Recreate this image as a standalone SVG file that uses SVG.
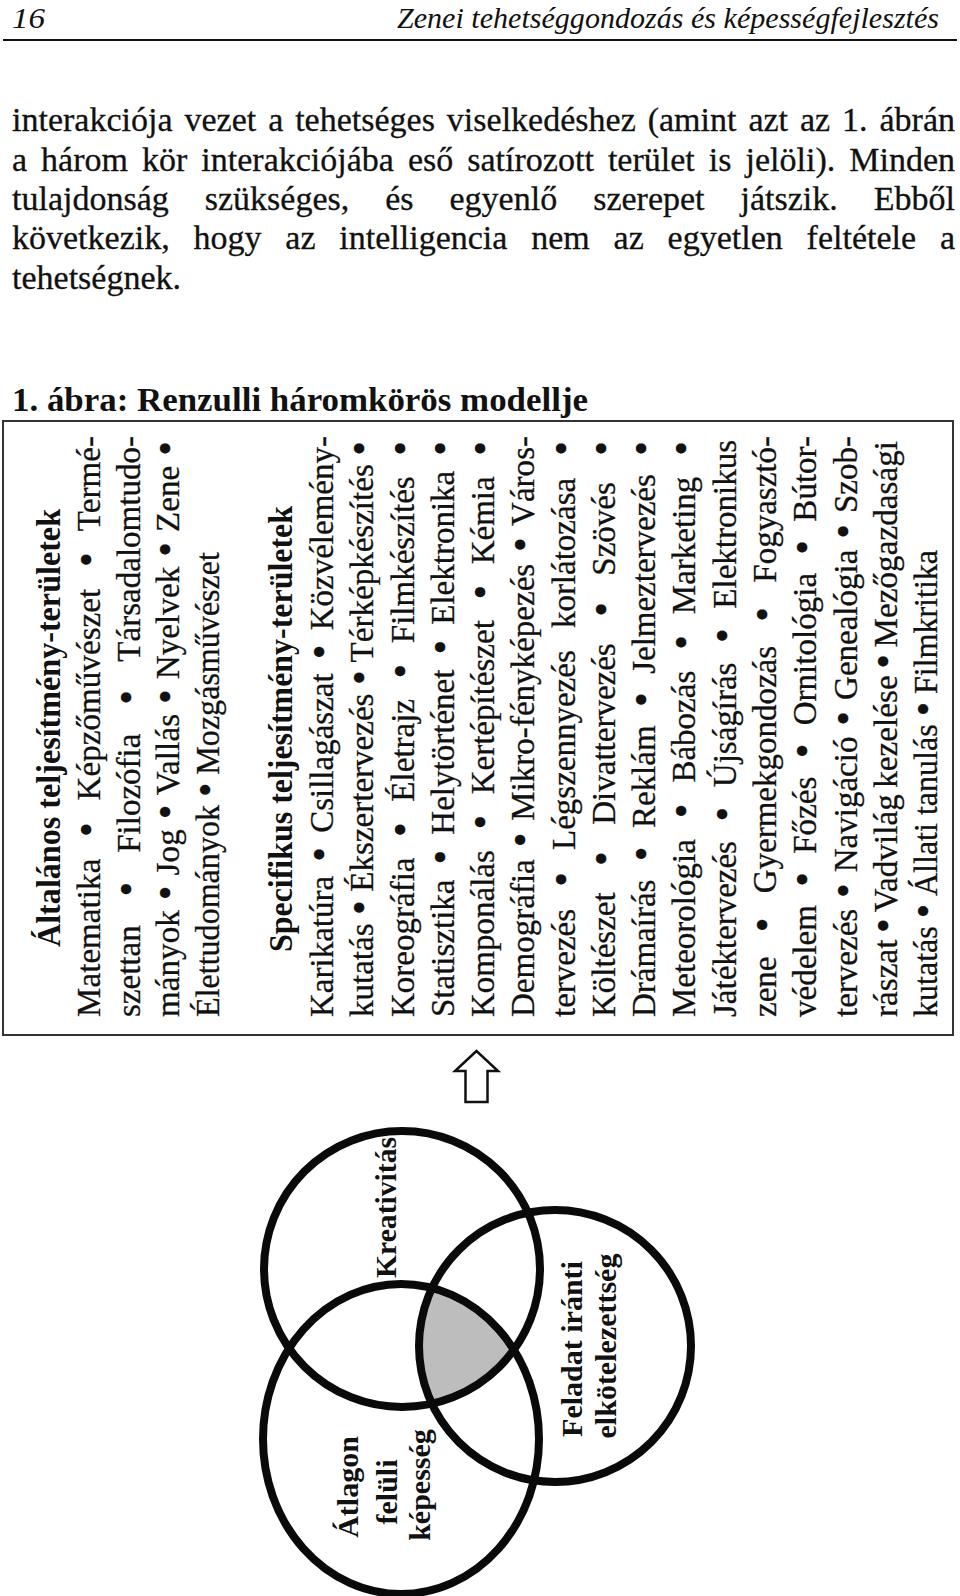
<svg xmlns="http://www.w3.org/2000/svg" width="960" height="1596" viewBox="0 0 960 1596">
<style>
.hd{font-family:"Liberation Serif",serif;font-style:italic;font-size:30px;fill:#111}
.bd{font-family:"Liberation Serif",serif;font-size:34px;fill:#111;stroke:#111;stroke-width:0.3}
.cap{font-family:"Liberation Serif",serif;font-size:34px;font-weight:bold;fill:#111}
.bx{font-family:"Liberation Serif",serif;font-size:33px;fill:#111;stroke:#111;stroke-width:0.3}
.bxh{font-family:"Liberation Serif",serif;font-size:33px;font-weight:bold;fill:#111}
.b{font-size:42px}
.lb{font-family:"Liberation Serif",serif;font-size:30px;font-weight:bold;fill:#111}
.ring{fill:none;stroke:#0a0a0a;stroke-width:8}
</style>
<defs>
<clipPath id="clipLow"><ellipse cx="401" cy="1439" rx="138" ry="155"/></clipPath>
<clipPath id="clipRight"><circle cx="555" cy="1346" r="136"/></clipPath>
</defs>
<rect x="0" y="0" width="960" height="1596" fill="#fff"/>

<g id="header">
<text class="hd" x="12" y="28" textLength="33" lengthAdjust="spacingAndGlyphs">16</text>
<text class="hd" x="397" y="28" textLength="542" lengthAdjust="spacingAndGlyphs">Zenei tehetséggondozás és képességfejlesztés</text>
<line x1="3" y1="40" x2="957" y2="40" stroke="#111" stroke-width="2"/>
</g>

<g id="body-text">
<text class="bd" x="12" y="131" word-spacing="3.4" textLength="943" lengthAdjust="spacing">interakciója vezet a tehetséges viselkedéshez (amint azt az 1. ábrán</text>
<text class="bd" x="12" y="170.5" word-spacing="5.5" textLength="943" lengthAdjust="spacing">a három kör interakciójába eső satírozott terület is jelöli). Minden</text>
<text class="bd" x="12" y="210" word-spacing="27.5" textLength="943" lengthAdjust="spacing">tulajdonság szükséges, és egyenlő szerepet játszik. Ebből</text>
<text class="bd" x="12" y="249" word-spacing="15.3" textLength="943" lengthAdjust="spacing">következik, hogy az intelligencia nem az egyetlen feltétele a</text>
<text class="bd" x="12" y="288.5">tehetségnek.</text>
</g>

<g id="caption">
<text class="cap" x="12" y="411" textLength="576" lengthAdjust="spacingAndGlyphs">1. ábra: Renzulli háromkörös modellje</text>
</g>

<g id="domains-box">
<rect x="3" y="421" width="950" height="614" fill="none" stroke="#333" stroke-width="2"/>
<text class="bxh" transform="translate(60,947) rotate(-90)" textLength="438" lengthAdjust="spacingAndGlyphs">Általános teljesítmény-területek</text>
<text class="bx" transform="translate(100,1017) rotate(-90)" word-spacing="13.3" textLength="581" lengthAdjust="spacing">Matematika <tspan class="b">•</tspan> Képzőművészet <tspan class="b">•</tspan> Termé-</text>
<text class="bx" transform="translate(139.5,1017) rotate(-90)" word-spacing="20.6" textLength="581" lengthAdjust="spacing">szettan <tspan class="b">•</tspan> Filozófia <tspan class="b">•</tspan> Társadalomtudo-</text>
<text class="bx" transform="translate(179,1017) rotate(-90)" word-spacing="1.55" textLength="576" lengthAdjust="spacing">mányok <tspan class="b">•</tspan> Jog <tspan class="b">•</tspan> Vallás <tspan class="b">•</tspan> Nyelvek <tspan class="b">•</tspan> Zene <tspan class="b">•</tspan></text>
<text class="bx" transform="translate(218.5,1017) rotate(-90)" textLength="465" lengthAdjust="spacingAndGlyphs">Élettudományok <tspan class="b">•</tspan> Mozgásművészet</text>

<text class="bxh" transform="translate(292,952) rotate(-90)" textLength="446" lengthAdjust="spacingAndGlyphs">Specifikus teljesítmény-területek</text>
<text class="bx" transform="translate(333,1017) rotate(-90)" word-spacing="5.9" textLength="581" lengthAdjust="spacing">Karikatúra <tspan class="b">•</tspan> Csillagászat <tspan class="b">•</tspan> Közvélemény-</text>
<text class="bx" transform="translate(373.3,1017) rotate(-90)" word-spacing="0.25" textLength="576" lengthAdjust="spacing">kutatás <tspan class="b">•</tspan> Ékszertervezés <tspan class="b">•</tspan> Térképkészítés <tspan class="b">•</tspan></text>
<text class="bx" transform="translate(413.5,1017) rotate(-90)" word-spacing="12.3" textLength="576" lengthAdjust="spacing">Koreográfia <tspan class="b">•</tspan> Életrajz <tspan class="b">•</tspan> Filmkészítés <tspan class="b">•</tspan></text>
<text class="bx" transform="translate(453.8,1017) rotate(-90)" word-spacing="6.8" textLength="576" lengthAdjust="spacing">Statisztika <tspan class="b">•</tspan> Helytörténet <tspan class="b">•</tspan> Elektronika <tspan class="b">•</tspan></text>
<text class="bx" transform="translate(494.1,1017) rotate(-90)" word-spacing="12.3" textLength="576" lengthAdjust="spacing">Komponálás <tspan class="b">•</tspan> Kertépítészet <tspan class="b">•</tspan> Kémia <tspan class="b">•</tspan></text>
<text class="bx" transform="translate(534.4,1017) rotate(-90)" word-spacing="3.6" textLength="581" lengthAdjust="spacing">Demográfia <tspan class="b">•</tspan> Mikro-fényképezés <tspan class="b">•</tspan> Város-</text>
<text class="bx" transform="translate(574.6,1017) rotate(-90)" word-spacing="13.9" textLength="576" lengthAdjust="spacing">tervezés <tspan class="b">•</tspan> Légszennyezés korlátozása <tspan class="b">•</tspan></text>
<text class="bx" transform="translate(614.9,1017) rotate(-90)" word-spacing="18.2" textLength="576" lengthAdjust="spacing">Költészet <tspan class="b">•</tspan> Divattervezés <tspan class="b">•</tspan> Szövés <tspan class="b">•</tspan></text>
<text class="bx" transform="translate(655.2,1017) rotate(-90)" word-spacing="10.2" textLength="576" lengthAdjust="spacing">Drámaírás <tspan class="b">•</tspan> Reklám <tspan class="b">•</tspan> Jelmeztervezés <tspan class="b">•</tspan></text>
<text class="bx" transform="translate(695.4,1017) rotate(-90)" word-spacing="12.7" textLength="576" lengthAdjust="spacing">Meteorológia <tspan class="b">•</tspan> Bábozás <tspan class="b">•</tspan> Marketing <tspan class="b">•</tspan></text>
<text class="bx" transform="translate(735.7,1017) rotate(-90)" word-spacing="11.3" textLength="577" lengthAdjust="spacing">Játéktervezés <tspan class="b">•</tspan> Újságírás <tspan class="b">•</tspan> Elektronikus</text>
<text class="bx" transform="translate(776,1017) rotate(-90)" word-spacing="16" textLength="581" lengthAdjust="spacing">zene <tspan class="b">•</tspan> Gyermekgondozás <tspan class="b">•</tspan> Fogyasztó-</text>
<text class="bx" transform="translate(816.2,1017) rotate(-90)" word-spacing="10" textLength="581" lengthAdjust="spacing">védelem <tspan class="b">•</tspan> Főzés <tspan class="b">•</tspan> Ornitológia <tspan class="b">•</tspan> Bútor-</text>
<text class="bx" transform="translate(856.5,1017) rotate(-90)" word-spacing="2.7" textLength="581" lengthAdjust="spacing">tervezés <tspan class="b">•</tspan> Navigáció <tspan class="b">•</tspan> Genealógia <tspan class="b">•</tspan> Szob-</text>
<text class="bx" transform="translate(896.8,1017) rotate(-90)" word-spacing="-1.9" textLength="576" lengthAdjust="spacing">rászat <tspan class="b">•</tspan> Vadvilág kezelése <tspan class="b">•</tspan> Mezőgazdasági</text>
<text class="bx" transform="translate(937,1017) rotate(-90)" textLength="467" lengthAdjust="spacingAndGlyphs">kutatás <tspan class="b">•</tspan> Állati tanulás <tspan class="b">•</tspan> Filmkritika</text>
</g>

<g id="connectors">
<polygon id="arrow-up" points="476.5,1051 455,1071 465.5,1071 465.5,1102 487.5,1102 487.5,1071 498,1071" fill="#fff" stroke="#111" stroke-width="2.5" stroke-linejoin="miter"/>
</g>

<g id="overlap">
<g clip-path="url(#clipRight)">
<circle cx="402" cy="1269" r="138" fill="#bdbdbd" clip-path="url(#clipLow)"/>
</g>
</g>

<g id="circle-kreativitas">
<circle class="ring" cx="402" cy="1269" r="138"/>
<text class="lb" transform="translate(396,1278) rotate(-90)" textLength="141" lengthAdjust="spacingAndGlyphs">Kreativitás</text>
</g>

<g id="circle-feladat">
<circle class="ring" cx="555" cy="1346" r="136"/>
<text class="lb" transform="translate(582,1349) rotate(-90)" text-anchor="middle">Feladat iránti</text>
<text class="lb" transform="translate(616,1346) rotate(-90)" text-anchor="middle">elkötelezettség</text>
</g>

<g id="circle-atlagon">
<ellipse class="ring" cx="401" cy="1439" rx="138" ry="155"/>
<text class="lb" transform="translate(358,1487) rotate(-90)" text-anchor="middle">Átlagon</text>
<text class="lb" transform="translate(397,1492) rotate(-90)" text-anchor="middle">felüli</text>
<text class="lb" transform="translate(430,1485) rotate(-90)" text-anchor="middle">képesség</text>
</g>
</svg>
